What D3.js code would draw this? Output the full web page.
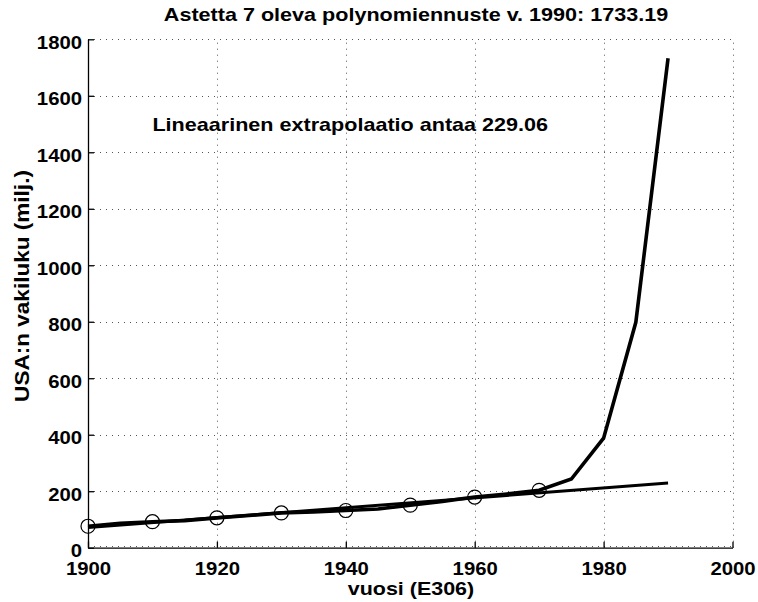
<!DOCTYPE html>
<html>
<head>
<meta charset="utf-8">
<script src="https://cdn.jsdelivr.net/npm/d3@7"></script>
<style>
  html, body { margin: 0; padding: 0; background: #fff; }
  svg { display: block; }
  text { font-family: "Liberation Sans", Arial, Helvetica, sans-serif; font-weight: bold; fill: #000; }
</style>
</head>
<body>
<script>
// ---- data ----
const dataYears = [1900, 1910, 1920, 1930, 1940, 1950, 1960, 1970];
const dataValues = [75.995, 91.972, 105.711, 123.203, 131.669, 150.697, 179.323, 203.212];

const polyYears = [1900, 1905, 1910, 1915, 1920, 1925, 1930, 1935, 1940, 1945, 1950, 1955, 1960, 1965, 1970, 1975, 1980, 1985, 1990];
const polyValues = [75.995, 86, 91.972, 96, 105.711, 114, 123.203, 127, 131.669, 137, 150.697, 164, 179.323, 190, 203.212, 243, 388, 798, 1733.19];

const linYears = [1900, 1990];
const linValues = [71.44, 229.06];

const xTicks = [1900, 1920, 1940, 1960, 1980, 2000];
const yTicks = [0, 200, 400, 600, 800, 1000, 1200, 1400, 1600, 1800];

const titleText = "Astetta 7 oleva polynomiennuste v. 1990: 1733.19";
const xLabelText = "vuosi  (E306)";
const yLabelText = "USA:n vakiluku (milj.)";
const noteText = "Lineaarinen extrapolaatio antaa 229.06";
const noteX = 1910, noteY = 1500;

(function () {
// ---- layout ----
const W = 758, H = 602;
const mLeft = 88, mRight = 732.5, mTop = 39.3, mBottom = 547.7;
const STRETCH = 1.16;

const svg = d3.select("body").append("svg").attr("width", W).attr("height", H);
svg.append("rect").attr("width", W).attr("height", H).attr("fill", "#fff");

const x = d3.scaleLinear().domain([1900, 2000]).range([mLeft, mRight]);
const y = d3.scaleLinear().domain([0, 1800]).range([mBottom, mTop]);

function stretch(sel, k) {
  sel.each(function () {
    const l = this.getComputedTextLength();
    this.setAttribute("textLength", l * (k || STRETCH));
    this.setAttribute("lengthAdjust", "spacingAndGlyphs");
  });
}

// grid
const grid = svg.append("g").attr("stroke", "#555").attr("stroke-width", 1).attr("stroke-dasharray", "1,5").attr("fill", "none");
xTicks.forEach(t => {
  grid.append("line").attr("x1", Math.round(x(t)) + 0.5).attr("x2", Math.round(x(t)) + 0.5)
    .attr("y1", y(0)).attr("y2", y(1800));
});
yTicks.forEach(t => {
  const yy = t === 0 ? Math.round(y(t)) - 1.5 : Math.round(y(t)) + 0.5;
  grid.append("line").attr("y1", yy).attr("y2", yy)
    .attr("x1", x(1900)).attr("x2", x(2000));
});

// axes
const xAxis = d3.axisBottom(x).tickValues(xTicks).tickFormat(d3.format("d")).tickSizeInner(-6).tickSizeOuter(0).tickPadding(0);
const gx = svg.append("g").attr("transform", `translate(0,${mBottom})`).call(xAxis);
gx.attr("font-family", null).attr("font-size", null);
gx.select(".domain").attr("stroke", "#000").attr("stroke-width", 1.3);
gx.selectAll(".tick line").attr("stroke", "#000").attr("stroke-width", 1.3);
gx.selectAll(".tick text").attr("y", 27).attr("dy", null)
  .style("font-size", "17.5px").attr("fill", "#000");
stretch(gx.selectAll(".tick text"));

const yAxis = d3.axisLeft(y).tickValues(yTicks).tickFormat(d3.format("d")).tickSizeInner(-6).tickSizeOuter(0).tickPadding(0);
const gy = svg.append("g").attr("transform", `translate(${mLeft},0)`).call(yAxis);
gy.attr("font-family", null).attr("font-size", null);
gy.select(".domain").attr("stroke", "#000").attr("stroke-width", 1.3);
gy.selectAll(".tick line").attr("stroke", "#000").attr("stroke-width", 1.3);
gy.selectAll(".tick text").attr("x", -6).attr("dy", 9)
  .style("font-size", "17.5px").attr("fill", "#000");
stretch(gy.selectAll(".tick text"));

// lines
const line = d3.line().x(d => x(d[0])).y(d => y(d[1]));
svg.append("path").datum(polyYears.map((t, i) => [t, polyValues[i]]))
  .attr("d", line).attr("fill", "none").attr("stroke", "#000").attr("stroke-width", 3.6).attr("stroke-linejoin", "miter");
svg.append("path").datum(linYears.map((t, i) => [t, linValues[i]]))
  .attr("d", line).attr("fill", "none").attr("stroke", "#000").attr("stroke-width", 3);

// data circles
svg.append("g").selectAll("circle").data(dataYears.map((t, i) => [t, dataValues[i]])).join("circle")
  .attr("cx", d => x(d[0])).attr("cy", d => y(d[1])).attr("r", 7)
  .attr("fill", "none").attr("stroke", "#000").attr("stroke-width", 1.2);

// texts
const title = svg.append("text").attr("x", 416).attr("y", 21).attr("text-anchor", "middle")
  .style("font-size", "18.6px").text(titleText);
stretch(title);

const xl = svg.append("text").attr("x", 411).attr("y", 595).attr("text-anchor", "middle")
  .style("font-size", "18.5px").text(xLabelText);
stretch(xl);

const yl = svg.append("text").attr("transform", "translate(28.5,286) rotate(-90)").attr("text-anchor", "middle")
  .style("font-size", "20.5px").text(yLabelText);
stretch(yl, 1.1);

const note = svg.append("text").attr("x", x(noteX)).attr("y", y(noteY) + 7).attr("text-anchor", "start")
  .style("font-size", "18.6px").text(noteText);
stretch(note);
})();
</script>
</body>
</html>
